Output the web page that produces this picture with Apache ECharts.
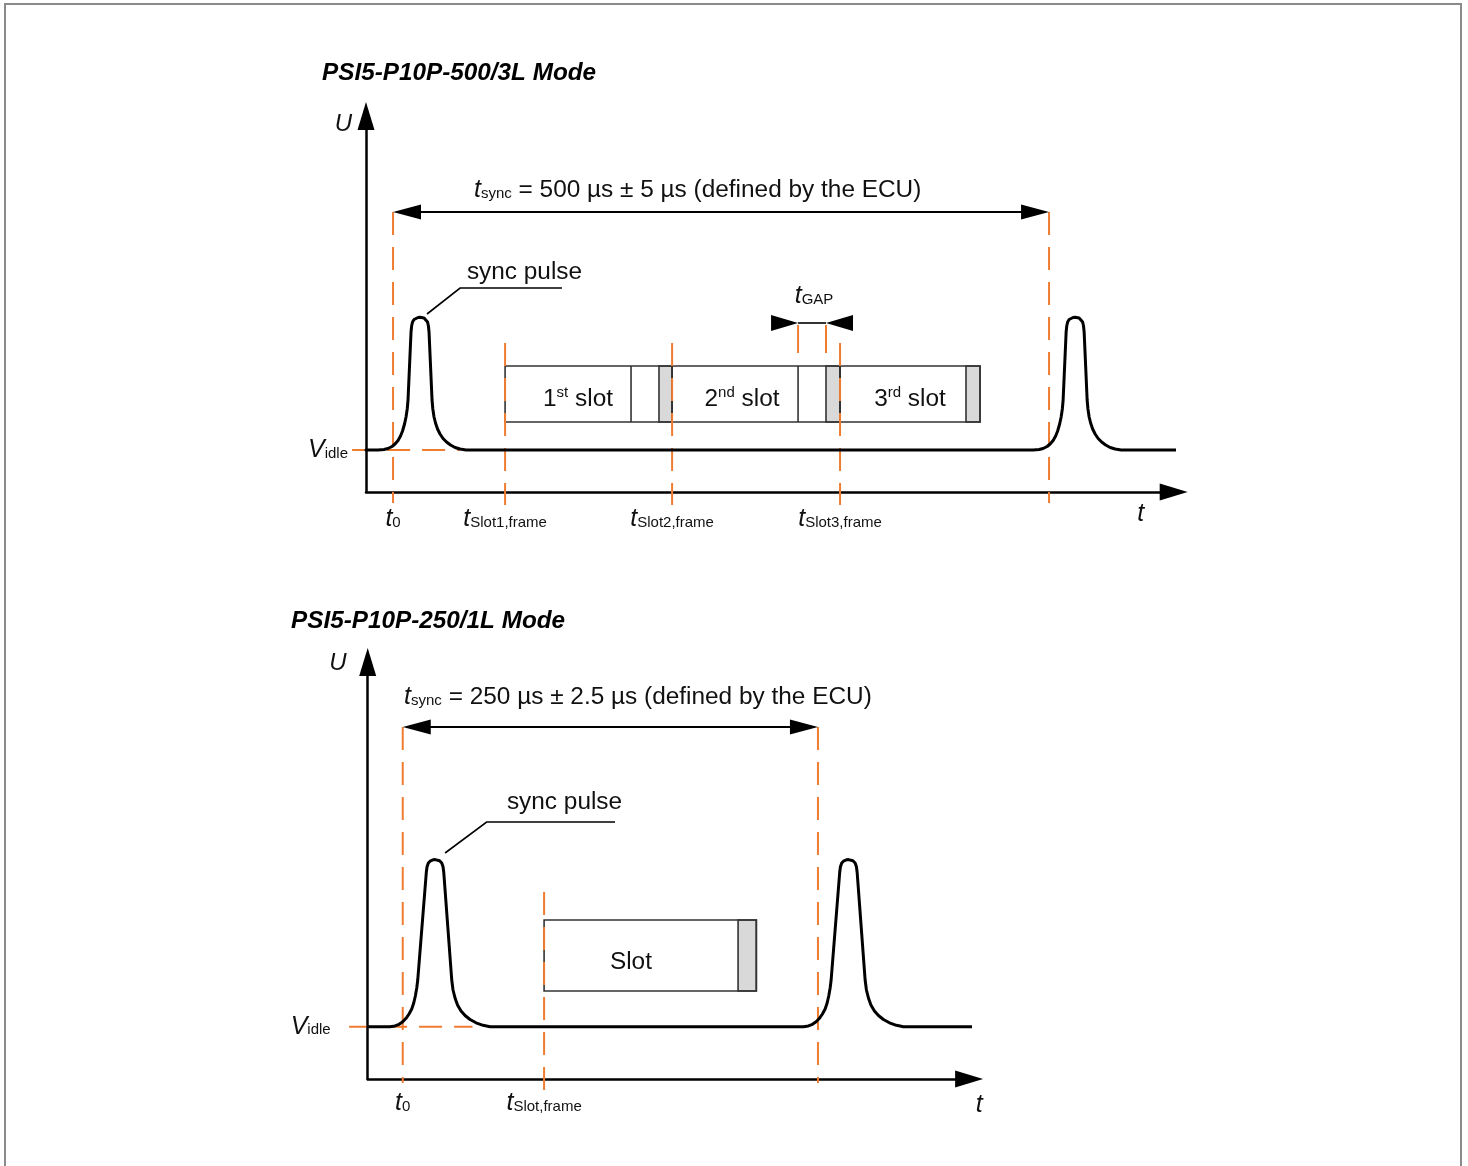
<!DOCTYPE html>
<html><head><meta charset="utf-8">
<script src="https://cdn.jsdelivr.net/npm/echarts@6/dist/echarts.min.js"></script>
<style>html,body{margin:0;padding:0;background:#fff}#c{width:1468px;height:1166px}</style>
</head><body><div id="c"></div>
<script>
const FONT = '"Liberation Sans", Arial, Helvetica, sans-serif';
const ORANGE = '#ef7d31';
const INK = '#111111';

// ================= DATA: top panel (PSI5-P10P-500/3L) =================
const topTitle = 'PSI5-P10P-500/3L Mode';
const topSyncPeriod = 500;                       // µs
const topSyncLabel = ' = 500 µs ± 5 µs (defined by the ECU)';
const topVidle = 4.2;                            // idle voltage level (a.u.)
// bus voltage trace [t (µs), U (a.u.)]
const topPulse = [
  [-20.58,4.2],[-11.43,4.2],[-6.86,4.25],[-3.81,4.35],[-0.76,4.55],[1.52,4.8],[3.81,5.15],[5.72,5.6],
  [7.24,6.1],[8.77,6.8],[9.91,7.5],[10.82,8.3],[11.43,9.2],[13.72,16.0],[14.18,16.6],[14.86,17.0],
  [16.01,17.25],[17.53,17.4],[19.05,17.45],[20.58,17.47],[22.10,17.45],[23.63,17.4],[25.15,17.25],
  [26.30,17.0],[26.98,16.6],[27.44,16.0],[29.73,9.2],[30.34,8.3],[31.25,7.5],[32.39,6.9],[33.92,6.3],
  [35.82,5.8],[38.11,5.35],[40.78,5.0],[43.83,4.7],[47.26,4.45],[51.07,4.3],[55.64,4.2],
  [487.87,4.2],[492.44,4.25],[495.49,4.35],[498.54,4.55],[500.82,4.8],[503.11,5.15],[505.02,5.6],
  [506.54,6.1],[508.07,6.8],[509.21,7.5],[510.12,8.3],[510.73,9.2],[513.02,16.0],[513.48,16.6],
  [514.16,17.0],[515.31,17.25],[516.83,17.4],[518.35,17.45],[519.88,17.47],[521.40,17.45],
  [522.93,17.4],[524.45,17.25],[525.60,17.0],[526.28,16.6],[526.74,16.0],[529.03,9.2],[529.64,8.3],
  [530.55,7.5],[531.69,6.9],[533.22,6.3],[535.12,5.8],[537.41,5.35],[540.08,5.0],[543.13,4.7],
  [546.56,4.45],[550.37,4.3],[554.94,4.2],[596.8,4.2]
];
const topSlotStart     = [85.4, 212.7, 340.7];
const topSlotGapStart  = [181.4, 308.7, null];
const topSlotGrayStart = [202.7, 330.0, 436.7];
const topSlotEnd       = [212.7, 340.7, 447.4];
const topSlotBoxU      = [7.0, 12.6];
const topSlotLabels    = [['1','st',' slot'], ['2','nd',' slot'], ['3','rd',' slot']];
const topGap           = [308.7, 330.0];
const topTickValues    = [0, 85.4, 212.7, 340.7];
const topTickSubs      = ['0', 'Slot1,frame', 'Slot2,frame', 'Slot3,frame'];

// ================= DATA: bottom panel (PSI5-P10P-250/1L) =================
const botTitle = 'PSI5-P10P-250/1L Mode';
const botSyncPeriod = 250;
const botSyncLabel = ' = 250 µs ± 2.5 µs (defined by the ECU)';
const botVidle = 5.23;
const botPulse = [
  [-21.07,5.23],[-7.65,5.23],[-4.64,5.31],[-2.23,5.47],[0,5.73],[1.99,6.07],[3.79,6.5],[5.42,7.0],
  [6.62,7.6],[7.59,8.3],[8.43,9.1],[9.03,9.9],[14.21,20.7],[14.63,21.23],[15.41,21.6],[16.74,21.82],
  [18.24,21.92],[19.45,21.94],[20.65,21.92],[22.16,21.82],[23.48,21.6],[24.26,21.23],[24.68,20.7],
  [29.50,9.9],[30.28,8.9],[31.49,8.1],[32.99,7.4],[35.10,6.8],[37.51,6.35],[40.52,5.95],[44.13,5.62],
  [48.34,5.37],[52.56,5.23],
  [241.25,5.23],[244.26,5.31],[246.67,5.47],[248.9,5.73],[250.89,6.07],[252.69,6.5],[254.32,7.0],
  [255.52,7.6],[256.49,8.3],[257.33,9.1],[257.93,9.9],[263.11,20.7],[263.53,21.23],[264.31,21.6],
  [265.64,21.82],[267.14,21.92],[268.35,21.94],[269.55,21.92],[271.06,21.82],[272.38,21.6],
  [273.16,21.23],[273.58,20.7],[278.40,9.9],[279.18,8.9],[280.39,8.1],[281.89,7.4],[284.00,6.8],
  [286.41,6.35],[289.42,5.95],[293.03,5.62],[297.24,5.37],[301.46,5.23],[344.6,5.23]
];
const botSlotStart     = [85.1];
const botSlotGapStart  = [null];
const botSlotGrayStart = [201.9];
const botSlotEnd       = [212.9];
const botSlotBoxU      = [8.8, 15.9];
const botSlotLabels    = [['Slot','','']];
const botTickValues    = [0, 85.1];
const botTickSubs      = ['0', 'Slot,frame'];

// ================= LAYOUT (positions / sizes, kept apart from data) =================
const L_TOP = {
  grid: {left: 366, top: 116, width: 807.7, height: 376},
  xRange: [-20.6, 595], yRange: [0, 37.6],
  syncArrowU: 28.0, syncText: [61.7, 30.2],
  tDashLowU: -1.1, slotDashTopU: 14.9, slotDashLowU: -1.3,
  vidleDash: [-31.2, 51],
  leader: [[25.9, 17.8], [51.1, 20.4], [128.8, 20.4]], pulseText: [100.2, 22.0],
  slotText: [[141, 9.3], [266, 9.3], [394, 9.3]],
  gap: {arrowU: 16.9, tickU: [13.9, 16.7], text: [320.9, 19.6]},
  vidleMargin: 18, tickMargin: 13, uNameGap: -8, uPad: 14, tNameGap: -33, tNamePad: 8,
  title: {left: 322, top: 61}
};
const L_BOT = {
  grid: {left: 367.7, top: 662, width: 601.4, height: 417},
  xRange: [-21.1, 341], yRange: [0, 41.7],
  syncArrowU: 35.2, syncText: [0.8, 38.2],
  tDashLowU: -0.4, slotDashTopU: 18.7, slotDashLowU: -1.1,
  vidleDash: [-32.3, 42],
  leader: [[25.5, 22.6], [50.5, 25.7], [127.8, 25.7]], pulseText: [97.4, 27.7],
  slotText: [[137.4, 11.7]],
  gap: null,
  vidleMargin: 37, tickMargin: 10, uNameGap: -1, uPad: 21, tNameGap: 10, tNamePad: 12,
  title: {left: 291, top: 609}
};

function richSet(colorKey) {
  const mk = (o) => Object.assign({fontFamily: FONT, [colorKey]: INK}, o);
  return {
    t:   mk({fontSize: 25, fontStyle: 'italic', lineHeight: 28}),
    s:   mk({fontSize: 15, verticalAlign: 'bottom', padding: [0, 0, 3, 0]}),
    n:   mk({fontSize: 24.4, lineHeight: 28}),
    sup: mk({fontSize: 15, verticalAlign: 'top'})
  };
}
const RICH_Z = richSet('fill');
const RICH_E = richSet('color');

function makeRender(P, L) {
  return function (params, api) {
    const c = (t, u) => api.coord([t, u]);
    const kids = [];
    const seg = (a, b, style) => kids.push({type: 'line', silent: true, shape: {x1: a[0], y1: a[1], x2: b[0], y2: b[1]}, style});
    const dash = {stroke: ORANGE, lineWidth: 2, lineDash: [23, 12]};
    const boxStroke = {stroke: '#333', lineWidth: 1.6, fill: null};
    const head = (tip, dir, len, half) => kids.push({type: 'polygon', silent: true,
      shape: {points: [[tip[0], tip[1]], [tip[0] - dir * len, tip[1] - half], [tip[0] - dir * len, tip[1] + half]]},
      style: {fill: '#000'}});
    const text = (pt, str, align) => kids.push({type: 'text', silent: true,
      style: {x: pt[0], y: pt[1], text: str, align: align || 'center', verticalAlign: 'middle',
        fontFamily: FONT, fontSize: 24, fill: INK, rich: RICH_Z}});

    // Vidle horizontal dashed reference
    seg(c(L.vidleDash[0], P.vidle), c(L.vidleDash[1], P.vidle), dash);

    // slot boxes
    const yTop = c(0, P.boxU[1])[1], yBot = c(0, P.boxU[0])[1];
    P.slotStart.forEach((s, i) => {
      const x0 = c(s, 0)[0], x1 = c(P.slotEnd[i], 0)[0], xg = c(P.grayStart[i], 0)[0];
      kids.push({type: 'rect', silent: true, shape: {x: xg, y: yTop, width: x1 - xg, height: yBot - yTop},
        style: {fill: '#d9d9d9', stroke: '#333', lineWidth: 1.6}});
      kids.push({type: 'rect', silent: true, shape: {x: x0, y: yTop, width: x1 - x0, height: yBot - yTop}, style: boxStroke});
      if (P.gapStart[i] != null) {
        const xd = c(P.gapStart[i], 0)[0];
        seg([xd, yTop], [xd, yBot], {stroke: '#333', lineWidth: 1.6});
      }
      const lab = P.slotLabels[i];
      let str = '{n|' + lab[0] + '}';
      if (lab[1]) str += '{sup|' + lab[1] + '}';
      if (lab[2]) str += '{n|' + lab[2] + '}';
      text(c(L.slotText[i][0], L.slotText[i][1]), str, 'center');
    });

    // orange dashed markers
    seg(c(0, L.syncArrowU), c(0, L.tDashLowU), dash);
    seg(c(P.period, L.syncArrowU), c(P.period, L.tDashLowU), dash);
    P.slotStart.forEach((s) => seg(c(s, L.slotDashTopU), c(s, L.slotDashLowU), dash));

    // t_sync arrow
    const a0 = c(0, L.syncArrowU), a1 = c(P.period, L.syncArrowU);
    seg([a0[0] + 20, a0[1]], [a1[0] - 20, a1[1]], {stroke: '#000', lineWidth: 2});
    head(a0, -1, 28, 7.5);
    head(a1, 1, 28, 7.5);
    text(c(L.syncText[0], L.syncText[1]), '{t|t}{s|sync}{n|' + P.syncLabel + '}', 'left');

    // t_GAP
    if (L.gap && P.gap) {
      const g0 = c(P.gap[0], L.gap.arrowU), g1 = c(P.gap[1], L.gap.arrowU);
      seg(c(P.gap[0], L.gap.tickU[0]), c(P.gap[0], L.gap.tickU[1]), {stroke: ORANGE, lineWidth: 2});
      seg(c(P.gap[1], L.gap.tickU[0]), c(P.gap[1], L.gap.tickU[1]), {stroke: ORANGE, lineWidth: 2});
      seg(g0, g1, {stroke: '#000', lineWidth: 1.6});
      head(g0, 1, 27, 8);
      head(g1, -1, 27, 8);
      text(c(L.gap.text[0], L.gap.text[1]), '{t|t}{s|GAP}', 'center');
    }

    // sync pulse annotation
    kids.push({type: 'polyline', silent: true, shape: {points: L.leader.map(p => c(p[0], p[1]))},
      style: {stroke: '#000', lineWidth: 1.6, fill: null}});
    text(c(L.pulseText[0], L.pulseText[1]), '{n|sync pulse}', 'center');

    return {type: 'group', children: kids};
  };
}

const PANELS = [
  {title: topTitle, period: topSyncPeriod, syncLabel: topSyncLabel, vidle: topVidle, pulse: topPulse,
   slotStart: topSlotStart, gapStart: topSlotGapStart, grayStart: topSlotGrayStart, slotEnd: topSlotEnd,
   boxU: topSlotBoxU, slotLabels: topSlotLabels, gap: topGap, ticks: topTickValues, tickSubs: topTickSubs, L: L_TOP},
  {title: botTitle, period: botSyncPeriod, syncLabel: botSyncLabel, vidle: botVidle, pulse: botPulse,
   slotStart: botSlotStart, gapStart: botSlotGapStart, grayStart: botSlotGrayStart, slotEnd: botSlotEnd,
   boxU: botSlotBoxU, slotLabels: botSlotLabels, gap: null, ticks: botTickValues, tickSubs: botTickSubs, L: L_BOT}
];

const axisLine = (sym) => ({show: true, onZero: false, symbol: ['none', 'triangle'], symbolSize: sym,
  lineStyle: {color: '#000', width: 2.5}});

const option = {
  animation: false,
  backgroundColor: '#fff',
  graphic: [{type: 'rect', silent: true, shape: {x: 5, y: 4, width: 1456, height: 1220},
    style: {fill: null, stroke: '#8a8a8a', lineWidth: 2}}],
  title: PANELS.map(P => ({text: P.title, left: P.L.title.left, top: P.L.title.top, padding: 0,
    textStyle: {fontFamily: FONT, fontSize: 24.3, fontWeight: 'bold', fontStyle: 'italic', color: '#000'}})),
  grid: PANELS.map(P => Object.assign({containLabel: false, outerBoundsMode: 'none', show: false}, P.L.grid)),
  xAxis: PANELS.map((P, i) => ({
    type: 'value', gridIndex: i, min: P.L.xRange[0], max: P.L.xRange[1],
    axisLine: axisLine([17, 28]), axisTick: {show: false}, splitLine: {show: false},
    name: 't', nameLocation: 'end', nameGap: P.L.tNameGap,
    nameTextStyle: {fontFamily: FONT, fontSize: 25, fontStyle: 'italic', color: INK, align: 'center',
      verticalAlign: 'top', lineHeight: 28, padding: [P.L.tNamePad, 0, 0, 0]},
    axisLabel: {show: true, customValues: P.ticks, margin: P.L.tickMargin, fontFamily: FONT, fontSize: 24, color: INK,
      rich: RICH_E,
      formatter: (v) => {
        const k = P.ticks.findIndex(x => Math.abs(x - v) < 1e-6);
        return k < 0 ? '' : '{t|t}{s|' + P.tickSubs[k] + '}';
      }}
  })),
  yAxis: PANELS.map((P, i) => ({
    type: 'value', gridIndex: i, min: P.L.yRange[0], max: P.L.yRange[1],
    axisLine: axisLine([17, 28]), axisTick: {show: false}, splitLine: {show: false},
    name: 'U', nameLocation: 'end', nameGap: P.L.uNameGap,
    nameTextStyle: {fontFamily: FONT, fontSize: 24, fontStyle: 'italic', color: INK, align: 'right',
      verticalAlign: 'middle', padding: [0, P.L.uPad, 0, 0]},
    axisLabel: {show: true, customValues: [P.vidle], margin: P.L.vidleMargin, fontFamily: FONT, fontSize: 24, color: INK,
      rich: RICH_E, formatter: () => '{t|V}{s|idle}'}
  })),
  series: PANELS.flatMap((P, i) => ([
    {type: 'custom', xAxisIndex: i, yAxisIndex: i, data: [0], clip: false, silent: true, z: 2,
     renderItem: makeRender(P, P.L)},
    {type: 'line', xAxisIndex: i, yAxisIndex: i, data: P.pulse, showSymbol: false, symbol: 'none',
     smooth: false, clip: false, silent: true, z: 3,
     lineStyle: {color: '#000', width: 3, join: 'round', cap: 'round'}}
  ]))
};

const chart = echarts.init(document.getElementById('c'));
chart.setOption(option);
</script>
</body></html>
